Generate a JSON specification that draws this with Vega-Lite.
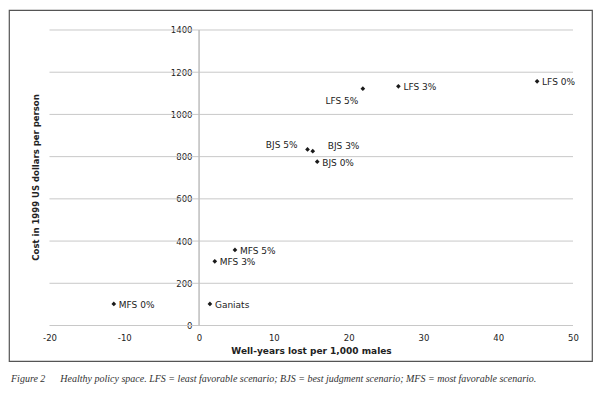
{
  "$schema": "https://vega.github.io/schema/vega-lite/v6.json",
  "width": 583,
  "height": 351,
  "autosize": "none",
  "padding": {"left": 9, "top": 10, "right": 8, "bottom": 33},
  "background": "white",
  "title": {
    "text": "Figure 2\u00a0\u00a0\u00a0\u00a0\u00a0\u00a0Healthy policy space. LFS = least favorable scenario; BJS = best judgment scenario; MFS = most favorable scenario.",
    "orient": "bottom",
    "anchor": "start",
    "font": "Liberation Serif",
    "fontStyle": "italic",
    "fontWeight": "normal",
    "fontSize": 10,
    "color": "#333",
    "offset": 13,
    "dx": 2
  },
  "datasets": {
    "points": [
      {"label": "LFS 0%", "wyl": 45.2, "cost": 1157},
      {"label": "LFS 3%", "wyl": 26.65, "cost": 1133},
      {"label": "LFS 5%", "wyl": 21.9, "cost": 1122},
      {"label": "BJS 5%", "wyl": 14.5, "cost": 834},
      {"label": "BJS 3%", "wyl": 15.2, "cost": 826},
      {"label": "BJS 0%", "wyl": 15.8, "cost": 776},
      {"label": "MFS 5%", "wyl": 4.8, "cost": 358},
      {"label": "MFS 3%", "wyl": 2.1, "cost": 304},
      {"label": "Ganiats", "wyl": 1.45, "cost": 102},
      {"label": "MFS 0%", "wyl": -11.4, "cost": 102}
    ],
    "grid": [
      {"v": 0}, {"v": 200}, {"v": 400}, {"v": 600}, {"v": 800}, {"v": 1000}, {"v": 1200}, {"v": 1400}
    ]
  },
  "layer": [
    {
      "data": {"name": "grid"},
      "mark": {"type": "rule", "color": "#c8c8c8", "strokeWidth": 1},
      "encoding": {
        "x": {"datum": -20, "type": "quantitative"},
        "x2": {"datum": 50},
        "y": {"field": "v", "type": "quantitative"}
      }
    },
    {
      "data": {"values": [{}]},
      "mark": {"type": "rule", "color": "#bdbdbd", "strokeWidth": 1.5},
      "encoding": {
        "x": {"datum": 0, "type": "quantitative"},
        "y": {"datum": 0, "type": "quantitative"},
        "y2": {"datum": 1400}
      }
    },
    {
      "data": {"name": "points"},
      "mark": {"type": "point", "shape": "diamond", "filled": true, "color": "#1a1a1a", "size": 22, "opacity": 1},
      "encoding": {
        "x": {
          "field": "wyl", "type": "quantitative",
          "scale": {"domain": [-25.415, 52.54], "nice": false, "zero": false},
          "axis": {
            "values": [-20, -10, 0, 10, 20, 30, 40, 50],
            "labelExpr": "datum.value + ''",
            "offset": -35.5,
            "domain": false, "ticks": false, "grid": false,
            "labelPadding": 8, "labelFontSize": 8.5, "labelFont": "DejaVu Sans", "labelColor": "#222",
            "labelFlush": false, "labelOverlap": false,
            "title": "Well-years lost per 1,000 males",
            "titleFont": "DejaVu Sans", "titleFontSize": 9, "titleFontWeight": "bold", "titleColor": "#222",
            "titleX": 302, "titlePadding": 4
          }
        },
        "y": {
          "field": "cost", "type": "quantitative",
          "scale": {"domain": [-168.2, 1494.7], "nice": false, "zero": false},
          "axis": {
            "values": [0, 200, 400, 600, 800, 1000, 1200, 1400],
            "labelExpr": "datum.value + ''",
            "offset": -190,
            "domain": false, "ticks": false, "grid": false,
            "labelPadding": 7, "labelFontSize": 8.5, "labelFont": "DejaVu Sans", "labelColor": "#222",
            "labelFlush": false, "labelOverlap": false,
            "title": "Cost in 1999 US dollars per person",
            "titleFont": "DejaVu Sans", "titleFontSize": 8.5, "titleFontWeight": "bold", "titleColor": "#222",
            "titleX": -164, "titleY": 167, "titleBaseline": "middle", "titleAlign": "center", "titleAngle": -90
          }
        }
      }
    },
    {
      "data": {"name": "points"},
      "transform": [{"filter": "datum.label != 'LFS 5%' && datum.label != 'BJS 5%' && datum.label != 'BJS 3%'"}],
      "mark": {"type": "text", "align": "left", "baseline": "middle", "dx": 5, "dy": 1, "font": "DejaVu Sans", "fontSize": 9, "color": "#222"},
      "encoding": {
        "x": {"field": "wyl", "type": "quantitative"},
        "y": {"field": "cost", "type": "quantitative"},
        "text": {"field": "label"}
      }
    },
    {
      "data": {"name": "points"},
      "transform": [{"filter": "datum.label == 'LFS 5%'"}],
      "mark": {"type": "text", "align": "center", "baseline": "middle", "dx": -21, "dy": 12, "font": "DejaVu Sans", "fontSize": 9, "color": "#222"},
      "encoding": {
        "x": {"field": "wyl", "type": "quantitative"},
        "y": {"field": "cost", "type": "quantitative"},
        "text": {"field": "label"}
      }
    },
    {
      "data": {"name": "points"},
      "transform": [{"filter": "datum.label == 'BJS 5%'"}],
      "mark": {"type": "text", "align": "right", "baseline": "middle", "dx": -10, "dy": -4, "font": "DejaVu Sans", "fontSize": 9, "color": "#222"},
      "encoding": {
        "x": {"field": "wyl", "type": "quantitative"},
        "y": {"field": "cost", "type": "quantitative"},
        "text": {"field": "label"}
      }
    },
    {
      "data": {"name": "points"},
      "transform": [{"filter": "datum.label == 'BJS 3%'"}],
      "mark": {"type": "text", "align": "left", "baseline": "middle", "dx": 15, "dy": -5, "font": "DejaVu Sans", "fontSize": 9, "color": "#222"},
      "encoding": {
        "x": {"field": "wyl", "type": "quantitative"},
        "y": {"field": "cost", "type": "quantitative"},
        "text": {"field": "label"}
      }
    }
  ],
  "config": {
    "view": {"stroke": "#555", "strokeWidth": 1.2},
    "font": "DejaVu Sans"
  }
}
